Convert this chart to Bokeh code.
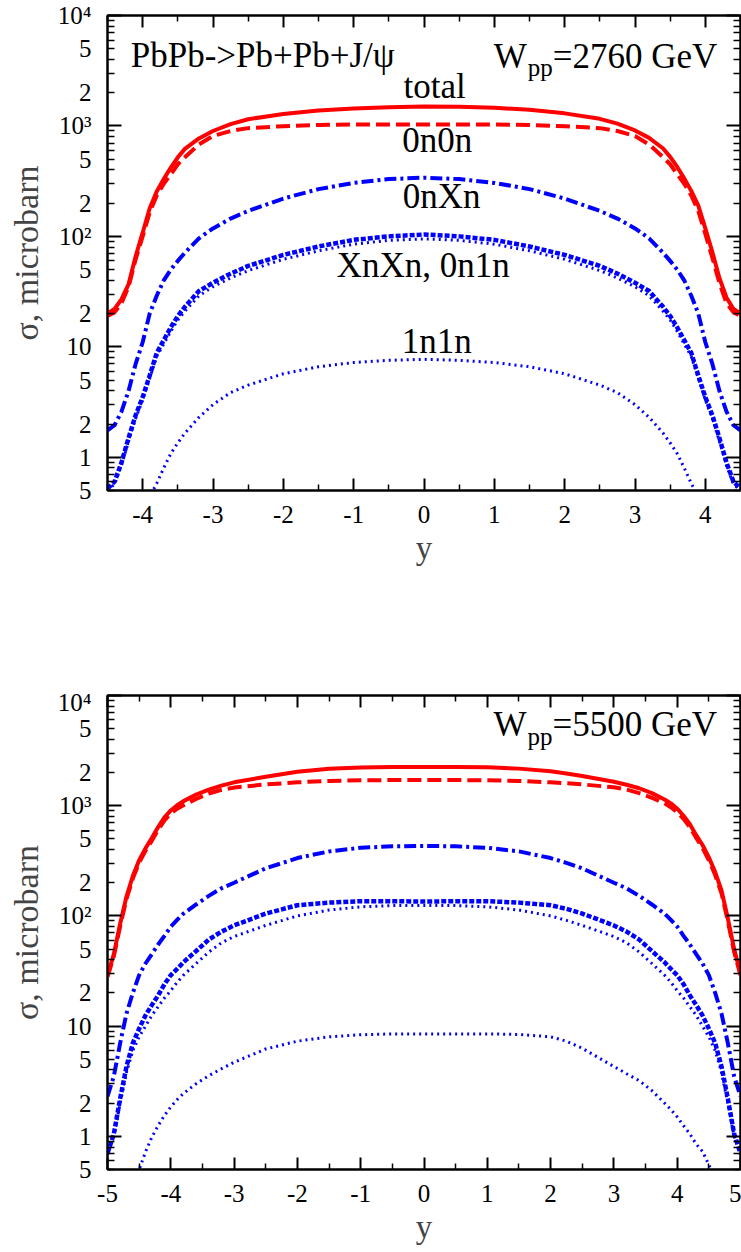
from bokeh.plotting import figure
from bokeh.layouts import column
from bokeh.models import Range1d, LogAxis, LinearAxis, FixedTicker, Label
from bokeh.embed import file_html
from bokeh.resources import INLINE

# ---------------- data: W_pp = 2760 GeV ----------------
Y_2760 = [-4.5, -4.4, -4.3, -4.2, -4.1, -4.0, -3.9, -3.8, -3.7, -3.6, -3.5, -3.4, -3.2, -3.0, -2.75, -2.5,
          -2.0, -1.5, -1.0, -0.5, 0.0, 0.5, 1.0, 1.5, 2.0, 2.5, 2.75, 3.0, 3.2, 3.4, 3.5, 3.6, 3.7, 3.8,
          3.9, 4.0, 4.1, 4.2, 4.3, 4.4, 4.5]
TOTAL_2760 = [20, 22, 27, 37, 66, 108, 180, 255, 330, 420, 520, 620, 770, 900, 1040, 1150,
              1280, 1380, 1440, 1480, 1500, 1490, 1460, 1400, 1300, 1160, 1050, 910, 780, 625, 525, 425, 335, 258,
              190, 118, 72, 42, 28, 22, 20]
N0N0_2760 = [19, 20.5, 25, 35, 62, 100, 165, 235, 300, 365, 450, 520, 680, 810, 900, 955,
             995, 1020, 1030, 1030, 1030, 1030, 1030, 1020, 995, 955, 900, 810, 680, 520, 450, 365, 300, 235,
             170, 105, 64, 38, 25, 20.5, 19]
N0XN_2760 = [1.75, 1.95, 2.6, 4.0, 7.0, 11, 20, 29, 40, 50, 60, 71, 96, 118, 145, 170,
             220, 268, 305, 330, 340, 330, 305, 268, 220, 170, 145, 118, 96, 71, 60, 50, 40, 29,
             20, 11, 7.0, 4.0, 2.6, 1.95, 1.75]
XNXN_2760 = [0.52, 0.6, 0.9, 1.5, 2.4, 3.5, 5.5, 8.8, 11.5, 15, 19, 23, 32, 38, 46, 54,
             68, 81, 93, 100, 104, 100, 93, 81, 68, 54, 46, 38, 32, 23, 19, 15, 11.5, 8.8,
             5.5, 3.5, 2.4, 1.5, 0.9, 0.6, 0.52]
N01N_2760 = [0.5, 0.57, 0.85, 1.4, 2.25, 3.3, 5.2, 8.2, 10.6, 13.8, 17.5, 21, 29, 35, 42, 49,
             62, 74, 85, 92, 95, 92, 85, 74, 62, 49, 42, 35, 29, 21, 17.5, 13.8, 10.6, 8.2,
             5.2, 3.3, 2.25, 1.4, 0.85, 0.57, 0.5]
N1N1_2760 = [0.12, 0.15, 0.19, 0.24, 0.3, 0.36, 0.44, 0.58, 0.8, 1.08, 1.35, 1.65, 2.3, 3.0, 3.85, 4.5,
             5.7, 6.6, 7.2, 7.55, 7.7, 7.55, 7.2, 6.6, 5.7, 4.5, 3.85, 3.0, 2.3, 1.65, 1.35, 1.08, 0.8, 0.58,
             0.44, 0.36, 0.3, 0.24, 0.19, 0.15, 0.12]

# ---------------- data: W_pp = 5500 GeV ----------------
Y_5500 = [-5.0, -4.9, -4.8, -4.7, -4.6, -4.5, -4.4, -4.3, -4.2, -4.1, -4.0, -3.9, -3.8, -3.6, -3.4, -3.2, -3.0,
          -2.5, -2.0, -1.5, -1.0, -0.5, 0.0, 0.5, 1.0, 1.5, 2.0, 2.25, 2.5, 3.0, 3.2, 3.4, 3.6, 3.8, 3.9, 4.0,
          4.1, 4.2, 4.3, 4.4, 4.5, 4.6, 4.7, 4.8, 4.9, 5.0]
TOTAL_5500 = [29, 45, 85, 150, 230, 320, 410, 510, 640, 785, 905, 1010, 1100, 1260, 1400, 1520, 1630,
              1830, 2030, 2160, 2220, 2250, 2250, 2250, 2230, 2170, 2050, 1960, 1860, 1650, 1550, 1440, 1300, 1140, 1050, 940,
              810, 680, 540, 440, 340, 250, 170, 95, 50, 30]
N0N0_5500 = [28, 43, 81, 143, 218, 305, 390, 480, 605, 735, 850, 940, 1010, 1150, 1290, 1390, 1460,
             1560, 1630, 1680, 1700, 1710, 1710, 1710, 1700, 1680, 1630, 1600, 1560, 1470, 1400, 1300, 1180, 1050, 970, 870,
             760, 640, 510, 415, 320, 235, 160, 90, 47, 29]
N0XN_5500 = [2.3, 3.5, 7, 13, 20, 29, 37, 45, 55, 66, 80, 92, 105, 127, 152, 178, 200,
             270, 335, 385, 415, 428, 432, 428, 415, 385, 335, 303, 270, 200, 178, 152, 127, 105, 92, 80,
             66, 55, 45, 37, 29, 20, 13, 7, 3.5, 2.3]
XNXN_5500 = [0.7, 1.05, 2.2, 4.3, 7, 9.5, 12.5, 15.5, 19, 24, 29, 33, 38, 48, 61, 72, 82,
             105, 125, 132, 136, 136, 135, 136, 136, 132, 125, 116, 105, 82, 72, 61, 48, 38, 33, 29,
             24, 19, 15.5, 12.5, 9.5, 7, 4.3, 2.2, 1.05, 0.7]
N01N_5500 = [0.68, 1.0, 2.0, 3.8, 6.0, 8.0, 10, 12.5, 15, 18, 21, 25, 29, 37, 47, 57, 65,
             82, 100, 113, 121, 124, 124, 124, 121, 113, 100, 91, 82, 65, 57, 47, 37, 29, 25, 21,
             18, 15, 12.5, 10, 8.0, 6.0, 3.8, 2.0, 1.0, 0.68]
N1N1_5500 = [0.18, 0.23, 0.28, 0.34, 0.42, 0.5, 0.72, 0.98, 1.25, 1.55, 1.85, 2.15, 2.45, 3.0, 3.55, 4.1, 4.7,
             6.2, 7.3, 8.0, 8.35, 8.5, 8.5, 8.5, 8.5, 8.4, 8.0, 7.3, 6.3, 4.3, 3.7, 3.2, 2.6, 2.0, 1.75, 1.5,
             1.25, 1.05, 0.85, 0.73, 0.55, 0.42, 0.34, 0.28, 0.23, 0.18]

# ---------------- axis ticks / labels ----------------
Y_LABEL_TICKS = [0.5, 1, 2, 5, 10, 20, 50, 100, 200, 500, 1000, 2000, 5000, 10000]
Y_LABEL_TEXTS = ["5", "1", "2", "5", "10", "2", "5", "10\u00b2", "2", "5", "10\u00b3", "2", "5", "10\u2074"]
Y_DECADES = [1, 10, 100, 1000, 10000]
X_TICKS_2760 = [-4, -3, -2, -1, 0, 1, 2, 3, 4]
X_LABELS_2760 = ["-4", "-3", "-2", "-1", "0", "1", "2", "3", "4"]
X_TICKS_5500 = [-5, -4, -3, -2, -1, 0, 1, 2, 3, 4, 5]
X_LABELS_5500 = ["-5", "-4", "-3", "-2", "-1", "0", "1", "2", "3", "4", "5"]
X_MINOR = [-4.5, -3.5, -2.5, -1.5, -0.5, 0.5, 1.5, 2.5, 3.5, 4.5]

FONT = "Liberation Serif"
RED = "#ff0000"
BLUE = "#0000ff"

y_minor = [m * 10 ** k for k in range(-1, 4) for m in range(2, 10) if 0.5 <= m * 10 ** k <= 10000]
y_overrides = dict(zip(Y_LABEL_TICKS, Y_LABEL_TEXTS))

NOLABEL = dict(major_label_text_font_size="1px", major_label_text_color=None, major_label_standoff=0)


def make_panel(height, border_top, border_bottom, xlim, xmajor, xlabels, ys, series, labels):
    p = figure(width=741, height=height, x_range=Range1d(*xlim), y_range=Range1d(0.5, 10000),
               y_axis_type="log", x_axis_location=None, y_axis_location=None,
               output_backend="svg", toolbar_location=None,
               min_border_left=107, min_border_right=1, min_border_top=border_top,
               min_border_bottom=border_bottom)
    p.xgrid.visible = False
    p.ygrid.visible = False
    p.outline_line_color = "black"
    p.outline_line_width = 2
    p.background_fill_color = "white"
    p.border_fill_color = "white"

    # left: ticks only (inner), then labels (outer)
    inner = LogAxis(ticker=FixedTicker(ticks=Y_DECADES, minor_ticks=y_minor),
                    major_tick_in=14, major_tick_out=0, minor_tick_in=7, minor_tick_out=0,
                    axis_line_width=2, major_tick_line_width=2, minor_tick_line_width=1.5, **NOLABEL)
    outer = LogAxis(ticker=FixedTicker(ticks=Y_LABEL_TICKS), axis_line_color=None,
                    major_tick_line_color=None, minor_tick_line_color=None,
                    major_tick_in=0, major_tick_out=0, minor_tick_in=0, minor_tick_out=0,
                    major_label_overrides=y_overrides, major_label_standoff=16,
                    major_label_text_font=FONT, major_label_text_font_size="25px",
                    major_label_text_color="black",
                    axis_label="\u03c3, microbarn", axis_label_text_font=FONT,
                    axis_label_text_font_size="34px", axis_label_text_font_style="normal",
                    axis_label_standoff=10)
    p.add_layout(inner, "left")
    p.add_layout(outer, "left")

    right = LogAxis(ticker=FixedTicker(ticks=Y_DECADES, minor_ticks=y_minor),
                    major_tick_in=14, major_tick_out=0, minor_tick_in=7, minor_tick_out=0,
                    axis_line_width=2, major_tick_line_width=2, minor_tick_line_width=1.5, **NOLABEL)
    p.add_layout(right, "right")

    bottom = LinearAxis(ticker=FixedTicker(ticks=xmajor, minor_ticks=X_MINOR),
                        major_tick_in=12, major_tick_out=0, minor_tick_in=6, minor_tick_out=0,
                        axis_line_width=2, major_tick_line_width=2, minor_tick_line_width=1.5,
                        major_label_overrides=dict(zip(xmajor, xlabels)),
                        major_label_standoff=15, major_label_text_font=FONT,
                        major_label_text_font_size="25px", major_label_text_color="black",
                        axis_label="y", axis_label_text_font=FONT, axis_label_text_font_size="33px",
                        axis_label_text_font_style="normal", axis_label_standoff=4)
    p.add_layout(bottom, "below")
    top = LinearAxis(ticker=FixedTicker(ticks=xmajor, minor_ticks=X_MINOR),
                     major_tick_in=12, major_tick_out=0, minor_tick_in=6, minor_tick_out=0,
                     axis_line_width=2, major_tick_line_width=2, minor_tick_line_width=1.5, **NOLABEL)
    p.add_layout(top, "above")

    total, n0n0, n0xn, xnxn, n01n, n1n1 = series
    p.line(ys, total, line_color=RED, line_width=4)
    p.line(ys, n0n0, line_color=RED, line_width=4, line_dash="14 6")
    p.line(ys, n0xn, line_color=BLUE, line_width=4, line_dash="12 4 3 4")
    p.line(ys, n01n, line_color=BLUE, line_width=3, line_dash="2 4")
    p.line(ys, xnxn, line_color=BLUE, line_width=4.5, line_dash="5 2")
    p.line(ys, n1n1, line_color=BLUE, line_width=3, line_dash="2 4")

    for (x, y, txt, size, align) in labels:
        p.add_layout(Label(x=x, y=y, text=txt, text_font=FONT, text_font_size=size,
                           text_align=align, text_baseline="alphabetic", text_color="black"))
    return p


labels_top = [
    (-4.17, 4310, "PbPb->Pb+Pb+J/\u03c8", "35px", "left"),
    (0.99, 4250, "W", "35px", "left"),
    (1.474, 3360, "pp", "25px", "left"),
    (1.83, 4250, "=2760 GeV", "35px", "left"),
    (0.15, 2275, "total", "35px", "center"),
    (0.19, 738, "0n0n", "35px", "center"),
    (0.25, 230, "0nXn", "35px", "center"),
    (-0.01, 55, "XnXn, 0n1n", "35px", "center"),
    (0.18, 11.1, "1n1n", "35px", "center"),
]
labels_bot = [
    (1.098, 5425, "W", "35px", "left"),
    (1.635, 4250, "pp", "25px", "left"),
    (2.03, 5425, "=5500 GeV", "35px", "left"),
]

p1 = make_panel(688, 15, 198, (-4.5, 4.5), X_TICKS_2760, X_LABELS_2760, Y_2760,
                (TOTAL_2760, N0N0_2760, N0XN_2760, XNXN_2760, N01N_2760, N1N1_2760), labels_top)
p2 = make_panel(564, 7, 83, (-5, 5), X_TICKS_5500, X_LABELS_5500, Y_5500,
                (TOTAL_5500, N0N0_5500, N0XN_5500, XNXN_5500, N01N_5500, N1N1_5500), labels_bot)

layout = column(p1, p2, spacing=0)
open("out.html", "w").write(file_html(layout, INLINE))
